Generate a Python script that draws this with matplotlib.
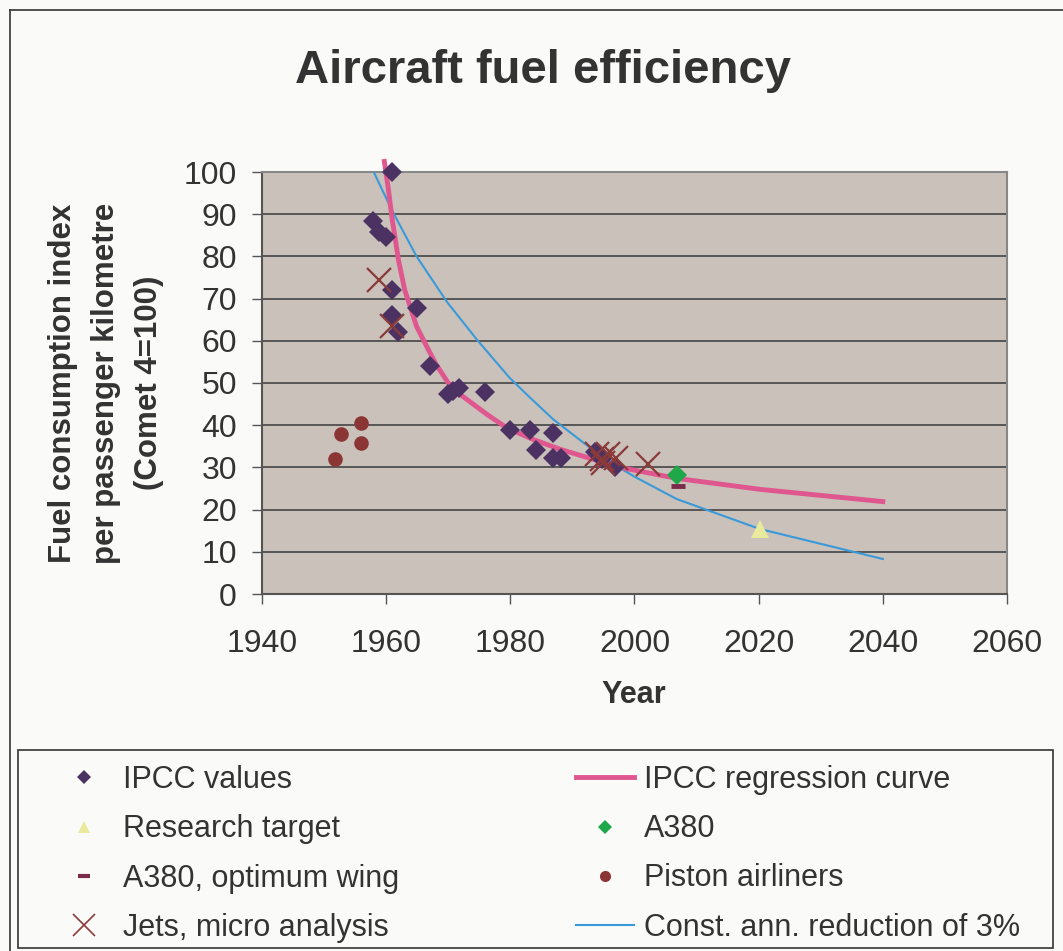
import matplotlib
matplotlib.use("Agg")
import matplotlib.pyplot as plt
from matplotlib.lines import Line2D
from matplotlib.patches import Rectangle

plt.rcParams["font.family"] = ["Liberation Sans", "DejaVu Sans"]

# Werte
ipcc_years = [1960.9, 1957.9, 1958.9, 1960.0, 1960.9, 1960.9, 1961.9, 1965.0, 1967.1,
              1970.0, 1970.8, 1971.8, 1976.0, 1979.9, 1983.2, 1984.1, 1986.9, 1986.9,
              1988.1, 1993.6, 1994.7, 1996.9]
ipcc_values = [99.9, 88.3, 85.7, 84.6, 72.1, 66.0, 62.2, 67.8, 54.1,
               47.3, 48.1, 48.9, 47.9, 38.8, 38.8, 34.1, 38.1, 32.3,
               32.3, 33.6, 31.9, 30.1]

reg_years = [1959.7, 1960.3, 1961.0, 1962.0, 1963.0, 1964.9, 1966.8, 1968.0, 1970.0,
             1972.0, 1976.2, 1979.4, 1983.7, 1988.0, 1993.4, 1998.7, 2006.8, 2020.2, 2040.0]
reg_values = [102.5, 96.5, 88.5, 79.0, 72.0, 63.4, 57.9, 54.5, 50.0,
              47.2, 42.6, 39.4, 36.6, 34.3, 31.9, 29.7, 27.4, 24.8, 21.9]

const_years = [1958.0, 1960.9, 1964.9, 1969.8, 1974.6, 1979.9, 1983.2, 1986.9,
               1995.0, 2000.0, 2006.8, 2020.2, 2040.0]
const_values = [100.0, 91.0, 80.0, 69.2, 60.3, 51.2, 46.5, 41.4,
                32.2, 27.8, 22.5, 15.4, 8.3]

jets_years = [1958.9, 1960.9, 1993.9, 1994.7, 1995.0, 1995.8, 1997.1, 2002.1]
jets_values = [74.5, 63.6, 33.1, 31.9, 31.1, 33.1, 32.3, 30.9]

piston_years = [1951.8, 1952.7, 1955.9, 1955.9]
piston_values = [32.1, 37.8, 40.6, 35.9]

a380_year, a380_value = [2006.8], [28.1]
a380_wing_year, a380_wing_value = [2007.0], [25.5]
target_year, target_value = [2020.2], [15.4]

c_ipcc = "#4B3262"
c_reg = "#E0568E"
c_const = "#3A9AD9"
c_jets = "#8B3A3A"
c_piston = "#8B3535"
c_a380 = "#1EA84A"
c_wing = "#7A2A4A"
c_target = "#E9EA9C"
txt = "#333333"

fig = plt.figure(figsize=(10.63, 9.51), dpi=100)
fig.patch.set_facecolor("#FAFAF8")

# aeusserer Rahmen
fig.add_artist(Line2D([10 / 1063, 1], [1 - 10 / 951, 1 - 10 / 951], color="#333333", lw=1.2,
                      transform=fig.transFigure))
fig.add_artist(Line2D([10 / 1063, 10 / 1063], [0, 1 - 10 / 951], color="#333333", lw=1.2,
                      transform=fig.transFigure))

ax = fig.add_axes([262 / 1063, 1 - 594 / 951, 745 / 1063, 422 / 951])
ax.set_facecolor("#C9C1BA")

ax.plot(const_years, const_values, color=c_const, lw=1.5, zorder=3)
ax.plot(reg_years, reg_values, color=c_reg, lw=3.5, zorder=3, clip_on=False)
ax.plot(ipcc_years, ipcc_values, "D", color=c_ipcc, ms=10.5, mew=0, zorder=4, clip_on=False)
ax.plot(jets_years, jets_values, "x", color=c_jets, ms=17, mew=1.6, zorder=5)
ax.plot(piston_years, piston_values, "o", color=c_piston, ms=10.5, mew=0, zorder=4)
ax.plot(a380_year, a380_value, "D", color=c_a380, ms=10, mew=0, zorder=4)
ax.plot(a380_wing_year, a380_wing_value, "_", color=c_wing, ms=10.5, mew=3.5, zorder=4)
ax.plot(target_year, target_value, "^", color=c_target, ms=13, mew=0, zorder=4)

ax.set_xlim(1940, 2060)
ax.set_ylim(0, 100)
ax.set_xticks(range(1940, 2061, 20))
ax.set_yticks(range(0, 101, 10))
ax.yaxis.grid(True, color="#3a3a3a", lw=1.1)
ax.set_axisbelow(True)
ax.tick_params(axis="both", direction="out", length=7, width=1, color="#555555",
               labelsize=23, labelcolor=txt)
ax.tick_params(axis="y", pad=11)
ax.tick_params(axis="x", pad=18)
ax.spines["left"].set_color("#555555")
ax.spines["bottom"].set_color("#555555")
ax.spines["top"].set_color("#888888")
ax.spines["right"].set_color("#888888")
for s in ax.spines.values():
    s.set_linewidth(1.5)

fig.text(543 / 1063, 1 - 71 / 951, "Aircraft fuel efficiency", fontsize=34, fontweight="bold",
         color=txt, ha="center", va="center")
fig.text(634 / 1063, 1 - 695 / 951, "Year", fontsize=22, fontweight="bold", color=txt,
         ha="center", va="center")
fig.text(106 / 1063, 1 - 383 / 951,
         "Fuel consumption index\nper passenger kilometre\n(Comet 4=100)",
         fontsize=22.5, fontweight="bold", color=txt, ha="center", va="center",
         rotation=90, multialignment="center", linespacing=1.58)

# Legende
fig.add_artist(Rectangle((18 / 1063, 1 - 948 / 951), (1053 - 18) / 1063, (948 - 750) / 951,
                         transform=fig.transFigure, facecolor="none", edgecolor="#333333", lw=1.2))
handles = [
    Line2D([], [], ls="none", marker="D", color=c_ipcc, ms=7, mew=0),
    Line2D([], [], ls="none", marker="^", color=c_target, ms=9, mew=0),
    Line2D([], [], ls="none", marker="_", color=c_wing, ms=9, mew=3),
    Line2D([], [], ls="none", marker="x", color=c_jets, ms=16, mew=1.2),
    Line2D([], [], color=c_reg, lw=3.5),
    Line2D([], [], ls="none", marker="D", color=c_a380, ms=7, mew=0),
    Line2D([], [], ls="none", marker="o", color=c_piston, ms=8, mew=0),
    Line2D([], [], color=c_const, lw=1.5),
]
labels = ["IPCC values", "Research target", "A380, optimum wing", "Jets, micro analysis",
          "IPCC regression curve", "A380", "Piston airliners", "Const. ann. reduction of 3%"]
leg = fig.legend(handles, labels, ncol=2, mode="expand", loc="upper left",
                 bbox_to_anchor=(55 / 1063, 1 - 948 / 951, (1020 - 55) / 1063, (948 - 765) / 951),
                 frameon=False, fontsize=22, handlelength=1.9, handletextpad=0.33,
                 labelspacing=0.63, borderpad=0, borderaxespad=0)
for t in leg.get_texts():
    t.set_color(txt)

fig.savefig("out.png", dpi=100, facecolor=fig.get_facecolor())
